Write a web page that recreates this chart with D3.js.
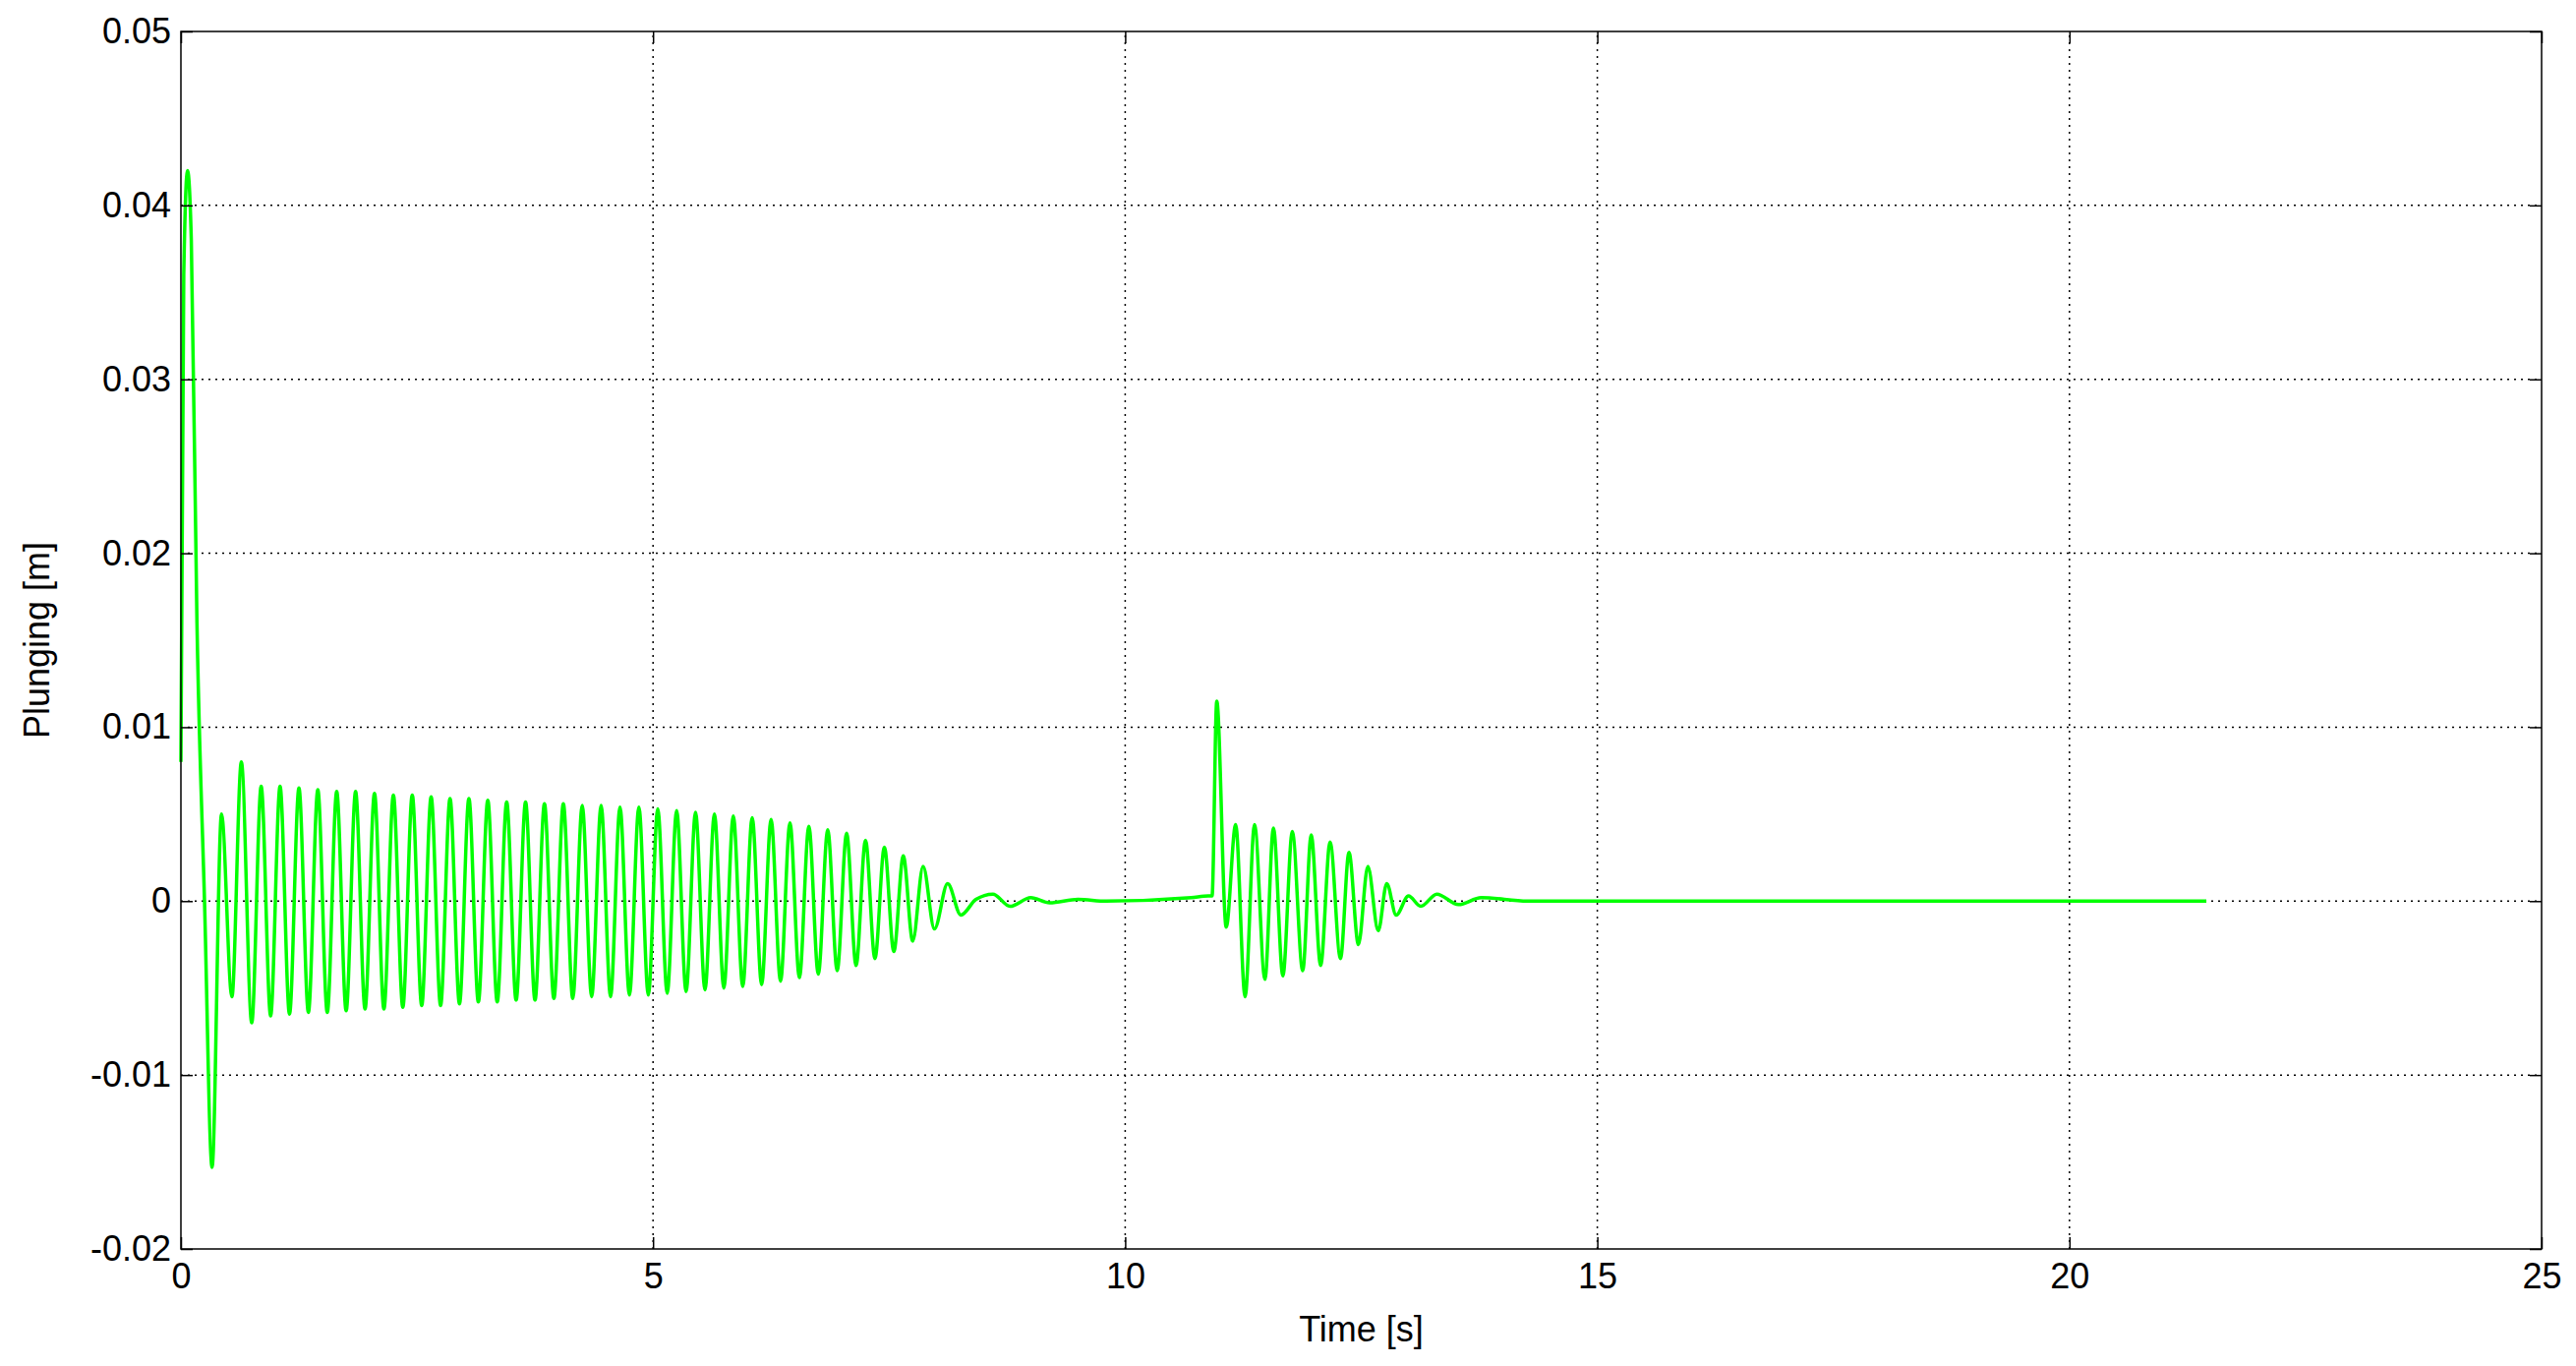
<!DOCTYPE html>
<html><head><meta charset="utf-8">
<script src="https://cdn.jsdelivr.net/npm/d3@7"></script>
<style>body{margin:0;background:#fff}svg{display:block}text{font-family:"Liberation Sans",Arial,sans-serif}</style>
</head><body>
<script>
var W = 2620, H = 1389;
var margin = {left:184, right:35, top:32, bottom:119};

var xTicks = [0,5,10,15,20,25];
var yTicks = [-0.02,-0.01,0,0.01,0.02,0.03,0.04,0.05];
var yTickLabels = ["-0.02","-0.01","0","0.01","0.02","0.03","0.04","0.05"];
var xLabel = "Time [s]", yLabel = "Plunging [m]";

// extrema: [time s, plunging m]
var startPts = [[0,0.008],[0.03,0.036],[0.07,0.042],[0.11,0.038],[0.17,0.016],[0.25,0.000],[0.33,-0.0153],[0.43,0.0050],[0.54,-0.0055]];
var ringA = [[0.64,0.0080],[0.75,-0.0070],[0.85,0.0066],[0.95,-0.0066],[1.05,0.0066],[1.15,-0.0065],[1.25,0.0065],[1.35,-0.0064],[1.45,0.0064],[1.55,-0.0064],
  [1.65,0.0063],[1.75,-0.0063],[1.85,0.0063],[1.95,-0.0062],[2.05,0.0062],[2.15,-0.0062],[2.25,0.0061],[2.35,-0.0061],[2.45,0.0061],[2.55,-0.0060],
  [2.65,0.0060],[2.75,-0.0060],[2.85,0.0059],[2.95,-0.0059],[3.05,0.0059],[3.15,-0.0058],[3.25,0.0058],[3.35,-0.0058],[3.45,0.0057],[3.55,-0.0057],
  [3.65,0.0057],[3.75,-0.0057],[3.85,0.0056],[3.95,-0.0056],[4.05,0.0056],[4.15,-0.0056],[4.25,0.0055],[4.35,-0.0055],[4.45,0.0055],[4.55,-0.0055],
  [4.65,0.0054],[4.75,-0.0054],[4.85,0.0054],[4.95,-0.0054],[5.05,0.0053],[5.15,-0.0053],[5.25,0.0052],[5.35,-0.0052],[5.45,0.0051],[5.55,-0.0051],
  [5.65,0.0050],[5.75,-0.0050],[5.85,0.0049],[5.95,-0.0049],[6.05,0.0048],[6.15,-0.0048],[6.25,0.0047],[6.35,-0.0046],[6.45,0.0045],[6.55,-0.0044],
  [6.65,0.0043],[6.75,-0.0042],[6.85,0.0041],[6.95,-0.0040],[7.05,0.0039],[7.15,-0.0037],[7.25,0.0035],[7.35,-0.0033],[7.45,0.0031],[7.55,-0.0029],
  [7.65,0.0026],[7.75,-0.0023],[7.86,0.0020],[7.98,-0.0016],[8.12,0.0010],[8.26,-0.0008],[8.42,0.0001],[8.6,0.0004],[8.78,-0.0003],
  [9.0,0.0002],[9.2,-0.0001],[9.5,0.0001],[9.8,0]];
var ringB = [[10.7,0.0002],[10.88,0.0003],[10.92,0.0003],[10.97,0.0115],[11.07,-0.0015],[11.17,0.0044],[11.27,-0.0055],[11.37,0.0044],[11.48,-0.0045],
  [11.57,0.0042],[11.67,-0.0043],[11.77,0.0040],[11.88,-0.0040],[11.97,0.0038],[12.07,-0.0037],[12.17,0.0034],[12.28,-0.0033],[12.37,0.0028],
  [12.47,-0.0025],[12.57,0.0020],[12.68,-0.0017],[12.77,0.0010],[12.87,-0.0008],[13.0,0.0003],[13.13,-0.0003],[13.3,0.0004],[13.53,-0.0002],
  [13.77,0.0002],[14.26,0],[21.45,0]];
var series = startPts.concat(ringA, ringB);

var svg = d3.select("body").append("svg").attr("width",W).attr("height",H);
var x = d3.scaleLinear().domain([0,25]).range([margin.left, W-margin.right]);
var y = d3.scaleLinear().domain([-0.02,0.05]).range([H-margin.bottom, margin.top]);

// grid
svg.append("g").selectAll("line").data(xTicks.slice(1,-1)).join("line")
  .attr("x1",d=>x(d)).attr("x2",d=>x(d)).attr("y1",y(-0.02)).attr("y2",y(0.05))
  .attr("stroke","#000").attr("stroke-width",1.5).attr("stroke-dasharray","2,5");
svg.append("g").selectAll("line").data(yTicks.slice(1,-1)).join("line")
  .attr("y1",d=>y(d)).attr("y2",d=>y(d)).attr("x1",x(0)).attr("x2",x(25))
  .attr("stroke","#000").attr("stroke-width",1.5).attr("stroke-dasharray","2,5");

// curve
svg.append("path").datum(series)
  .attr("d", d3.line().x(d=>x(d[0])).y(d=>y(d[1])).curve(d3.curveMonotoneX))
  .attr("fill","none").attr("stroke","#00ff00").attr("stroke-width",3.5);

// box and axes
svg.append("rect").attr("x",x(0)).attr("y",y(0.05)).attr("width",x(25)-x(0)).attr("height",y(-0.02)-y(0.05))
  .attr("fill","none").attr("stroke","#000").attr("stroke-width",1.5);
var fs = 36;
var bx = svg.append("g").attr("transform","translate(0,"+y(-0.02)+")")
  .call(d3.axisBottom(x).tickValues(xTicks).tickSize(-12).tickPadding(14));
var lx = svg.append("g").attr("transform","translate("+x(0)+",0)")
  .call(d3.axisLeft(y).tickValues(yTicks).tickFormat((d,i)=>yTickLabels[i]).tickSize(-12).tickPadding(10));
var rx = svg.append("g").attr("transform","translate("+x(25)+",0)")
  .call(d3.axisRight(y).tickValues(yTicks).tickSize(-12).tickFormat(""));
var tx = svg.append("g").attr("transform","translate(0,"+y(0.05)+")")
  .call(d3.axisTop(x).tickValues(xTicks).tickSize(-12).tickFormat(""));
[bx,lx,rx,tx].forEach(g=>{g.select(".domain").remove();
  g.selectAll("line").attr("stroke-width",1.5);
  g.selectAll("text").attr("font-size",fs).attr("font-family","Liberation Sans, Arial").attr("fill","#000");});

svg.append("text").attr("x",(x(0)+x(25))/2).attr("y",H-margin.bottom+94).attr("text-anchor","middle")
  .attr("font-size",fs).text(xLabel);
svg.append("text").attr("transform","translate(50,"+((y(-0.02)+y(0.05))/2)+") rotate(-90)")
  .attr("text-anchor","middle").attr("font-size",fs).text(yLabel);
</script>
</body></html>
